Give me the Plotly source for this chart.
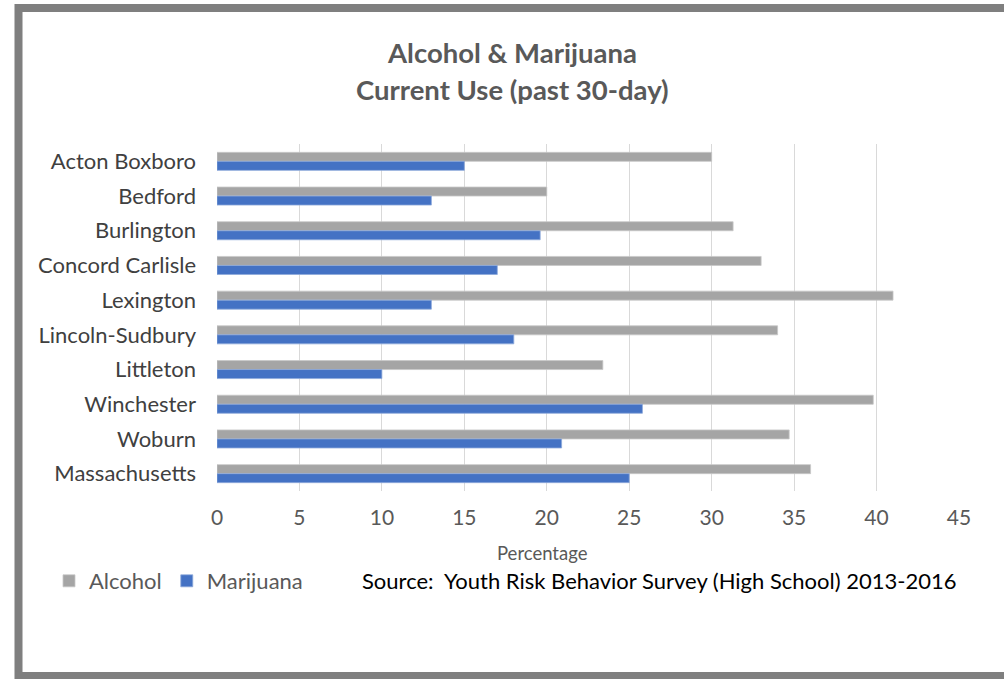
import plotly.graph_objects as go

categories = ["Acton Boxboro", "Bedford", "Burlington", "Concord Carlisle", "Lexington",
              "Lincoln-Sudbury", "Littleton", "Winchester", "Woburn", "Massachusetts"]
alcohol = [30.0, 20.0, 31.3, 33.0, 41.0, 34.0, 23.4, 39.8, 34.7, 36.0]
marijuana = [15.0, 13.0, 19.6, 17.0, 13.0, 18.0, 10.0, 25.8, 20.9, 25.0]
x_ticks = [0, 5, 10, 15, 20, 25, 30, 35, 40, 45]

W, H = 1004, 679
L, R, T, B = 217, 959, 144, 491  # plot area in pixels

def px(x):
    return (x - L) / (R - L)

def py(y):
    return (B - y) / (B - T)

FONT = "Lato"
fig = go.Figure()
fig.add_trace(go.Bar(y=categories, x=alcohol, name="Alcohol", orientation="h",
                     marker=dict(color="#A5A5A5", line=dict(color="#C8C8C8", width=0.8))))
fig.add_trace(go.Bar(y=categories, x=marijuana, name="Marijuana", orientation="h",
                     marker=dict(color="#4472C4", line=dict(color="#8EA9DB", width=0.8))))

fig.update_layout(
    width=W, height=H,
    margin=dict(l=L, r=W - R, t=T, b=H - B),
    paper_bgcolor="white", plot_bgcolor="white",
    barmode="group", bargap=0.48, bargroupgap=0,
    font=dict(family=FONT, color="#595959"),
    showlegend=True,
    legend=dict(orientation="h", x=px(49), y=py(581), xanchor="left", yanchor="middle",
                font=dict(size=22, color="#595959", family=FONT), itemwidth=30,
                traceorder="normal", bgcolor="rgba(0,0,0,0)"),
    xaxis=dict(range=[0, 45], tickvals=x_ticks, showgrid=True, gridcolor="#D9D9D9", gridwidth=1,
               zeroline=False, showline=False, ticks="", ticklabelstandoff=12,
               tickfont=dict(size=21, color="#595959", family=FONT), fixedrange=True),
    yaxis=dict(autorange="reversed", showgrid=False, zeroline=False, showline=False, ticks="",
               ticklabelstandoff=20, tickfont=dict(size=22, color="#404040", family=FONT)),
)

fig.add_annotation(text="<b>Alcohol & Marijuana</b>", x=px(512), y=py(52), xref="paper", yref="paper",
                   showarrow=False, font=dict(size=27.5, color="#595959", family=FONT),
                   xanchor="center", yanchor="middle")
fig.add_annotation(text="<b>Current Use (past 30-day)</b>", x=px(512), y=py(90), xref="paper", yref="paper",
                   showarrow=False, font=dict(size=27.5, color="#595959", family=FONT),
                   xanchor="center", yanchor="middle")
fig.add_annotation(text="Percentage", x=px(542), y=py(553), xref="paper", yref="paper",
                   showarrow=False, font=dict(size=18.5, color="#595959", family=FONT),
                   xanchor="center", yanchor="middle")
fig.add_annotation(text="Source:  Youth Risk Behavior Survey (High School) 2013-2016",
                   x=px(360), y=py(580), xref="paper", yref="paper",
                   showarrow=False, font=dict(size=22, color="#000000", family=FONT),
                   xanchor="left", yanchor="middle")

fig.add_shape(type="rect", xref="paper", yref="paper",
              x0=px(18.5), x1=px(1012), y0=py(8), y1=py(676),
              line=dict(color="#7F7F7F", width=8), fillcolor="rgba(0,0,0,0)", layer="below")

fig.write_html("out.html")
